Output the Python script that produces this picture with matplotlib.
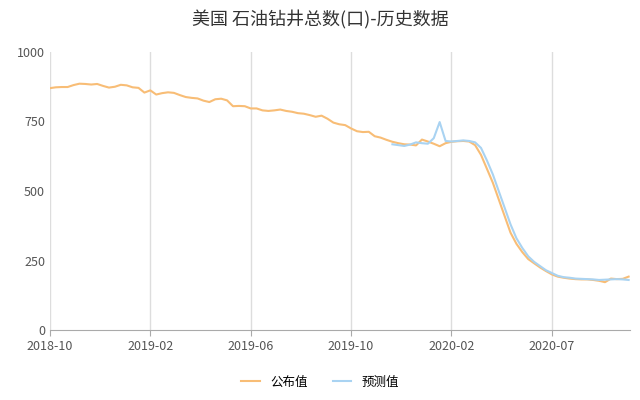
import matplotlib
matplotlib.use("Agg")
import matplotlib.pyplot as plt
import numpy as np

plt.rcParams['font.family'] = ['Noto Sans CJK SC', 'DejaVu Sans']

tick_labels = ["2018-10", "2019-02", "2019-06", "2019-10", "2020-02", "2020-07"]
tick_idx = [0, 17, 34, 51, 68, 85]

published = [870,873,874,874,881,886,885,883,885,878,872,875,882,880,873,871,854,
             862,847,852,855,853,845,838,835,833,825,820,830,832,826,805,806,805,
             797,797,790,788,790,793,788,785,780,778,773,767,771,760,746,740,737,
             725,715,712,713,697,692,684,677,672,668,667,664,685,678,670,661,672,
             677,679,680,678,665,630,580,530,470,410,350,310,280,255,240,225,212,
             200,192,188,185,183,182,182,180,177,172,185,183,184,192]
forecast = [np.nan]*58 + [668,665,662,667,675,672,670,690,748,680,
            678,680,682,680,675,655,610,560,500,440,380,330,295,265,245,230,215,
            205,195,190,188,185,184,183,182,180,181,182,183,182,180,185,192]
forecast = forecast[:len(published)]
x = np.arange(len(published))

fig, ax = plt.subplots(figsize=(6.4, 4.0), dpi=100)
fig.subplots_adjust(left=0.078, right=0.985, top=0.87, bottom=0.175)
ax.plot(x, published, color='#f8bd76', lw=1.5, label='公布值')
ax.plot(x, forecast, color='#a9d3f2', lw=1.5, label='预测值')
ax.set_xlim(0, len(published)-0.7)
ax.set_ylim(0, 1000)
ax.set_yticks([0, 250, 500, 750, 1000])
ax.set_xticks(tick_idx)
ax.set_xticklabels(tick_labels)
ax.grid(axis='x', color='#dddddd', lw=1)
ax.set_axisbelow(True)
for s in ['top', 'right', 'left']:
    ax.spines[s].set_visible(False)
ax.spines['bottom'].set_color('#aaaaaa')
ax.tick_params(axis='y', length=0, labelsize=9, colors='#555555')
ax.tick_params(axis='x', length=4, color='#aaaaaa', labelsize=9, colors='#555555')
fig.suptitle('美国 石油钻井总数(口)-历史数据', fontsize=13, color='#333333', y=0.975)
fig.legend(loc='lower center', ncol=2, frameon=False, fontsize=9,
           bbox_to_anchor=(0.5, 0.0), handlelength=1.5)
fig.savefig('out.png')
